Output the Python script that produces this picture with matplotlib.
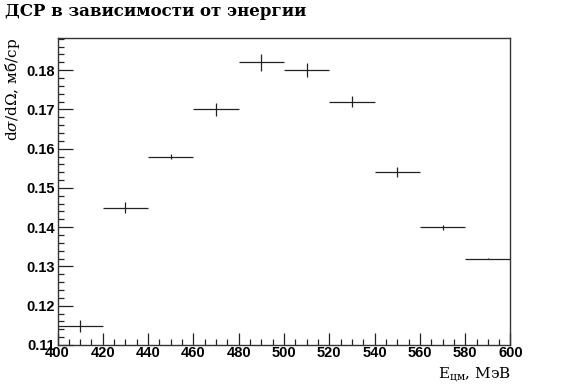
import matplotlib
matplotlib.use("Agg")
import matplotlib.pyplot as plt
from matplotlib.ticker import MultipleLocator, FormatStrFormatter

plt.rcParams['mathtext.fontset'] = 'dejavuserif'

# energy bins (MeV) and cross section values
bin_left = [400, 420, 440, 460, 480, 500, 520, 540, 560, 580]
bin_width = 20
dsr = [0.1149, 0.145, 0.158, 0.170, 0.182, 0.180, 0.172, 0.154, 0.140, 0.132]
dsr_err = [0.0015, 0.0013, 0.0007, 0.0016, 0.0022, 0.0017, 0.0013, 0.0013, 0.0006, 0.0001]

centers = [b + bin_width / 2 for b in bin_left]

fig = plt.figure(figsize=(5.68, 3.85), dpi=100)
ax = fig.add_axes([57.5 / 568, 1 - 345 / 385, 453 / 568, (345 - 38.3) / 385])

ax.errorbar(centers, dsr, xerr=bin_width / 2, yerr=dsr_err, fmt='none',
            ecolor='#222222', elinewidth=0.9, capsize=0)

ax.set_xlim(400, 600)
ax.set_ylim(0.11, 0.1881)

ax.xaxis.set_major_locator(MultipleLocator(20))
ax.xaxis.set_minor_locator(MultipleLocator(5))
ax.yaxis.set_major_locator(MultipleLocator(0.01))
ax.yaxis.set_minor_locator(MultipleLocator(0.002))
ax.yaxis.set_major_formatter(FormatStrFormatter('%.2f'))

ax.tick_params(which='both', direction='in', top=False, right=False, width=0.9, color='#222222')
ax.tick_params(axis='x', which='major', length=9, pad=1)
ax.tick_params(axis='y', which='major', length=11, pad=2)
ax.tick_params(which='minor', length=4.5)
for lab in ax.get_xticklabels() + ax.get_yticklabels():
    lab.set_fontfamily('Liberation Sans')
    lab.set_fontweight('bold')
    lab.set_fontsize(10.5)

for sp in ax.spines.values():
    sp.set_linewidth(1.0)
    sp.set_color('#333333')

ax.set_xlabel(r'E$_{\mathrm{цм}}$, МэВ', fontfamily='DejaVu Serif', fontsize=11, loc='right', labelpad=3)
ax.set_ylabel(r'd$\sigma$/d$\Omega$, мб/ср', fontfamily='DejaVu Serif', fontsize=11, loc='top', labelpad=3)

fig.text(5 / 568, 1 - 12 / 385, 'ДСР в зависимости от энергии', fontfamily='DejaVu Serif',
         fontweight='bold', fontsize=12, va='center', ha='left')

fig.savefig('out.png', dpi=100)
